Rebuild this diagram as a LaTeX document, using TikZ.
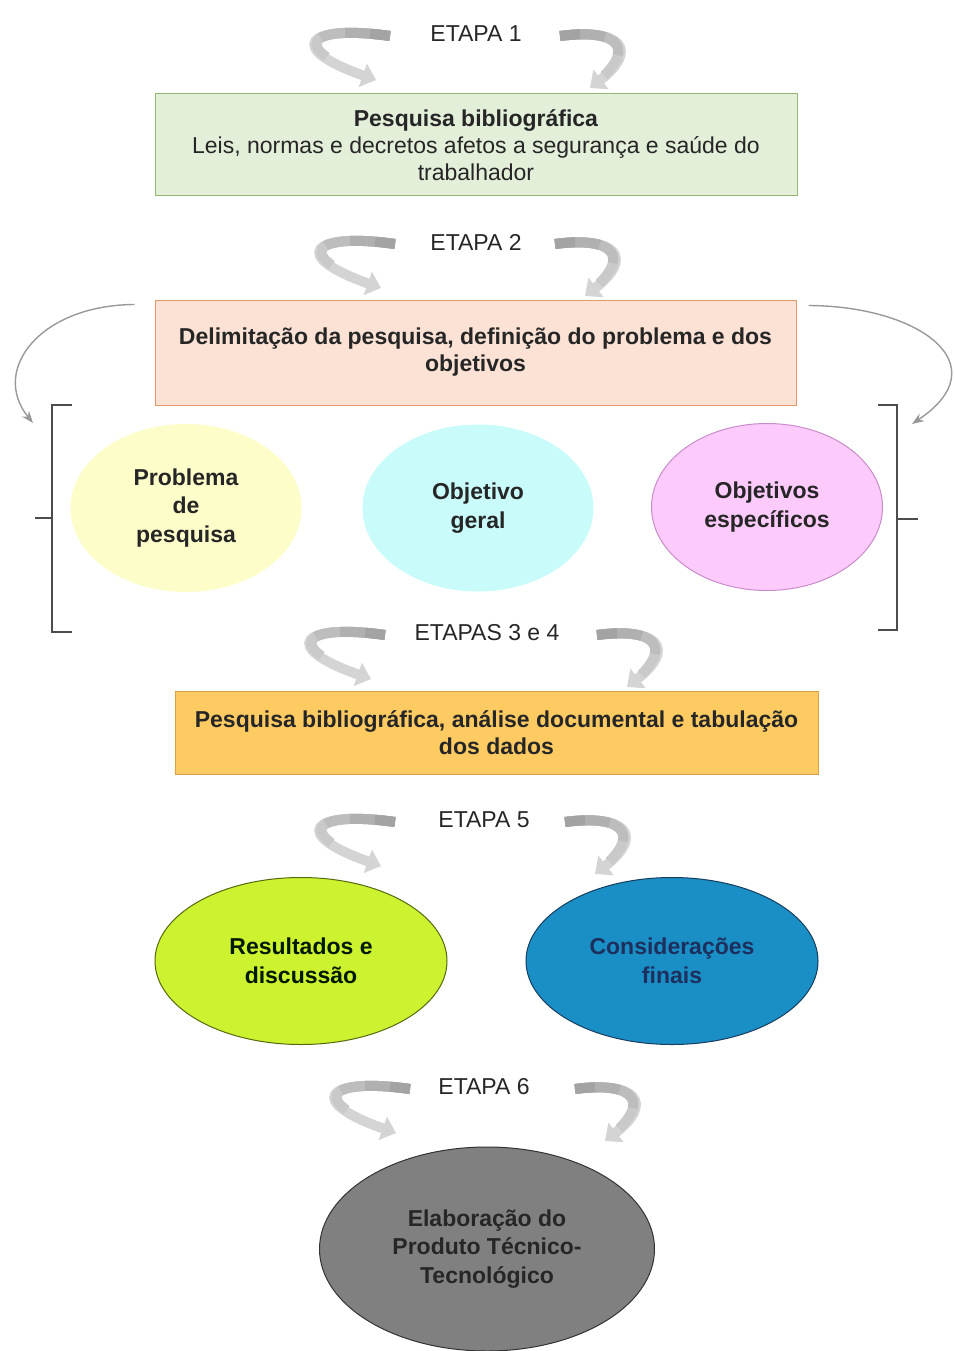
\documentclass[tikz,border=0pt]{standalone}
\usepackage{fontspec}
\setmainfont{Liberation Sans}
\usepackage{xcolor}
\usetikzlibrary{arrows.meta,shapes.geometric}

\definecolor{verdeF}{HTML}{E4EFDA}
\definecolor{verdeB}{HTML}{93B874}
\definecolor{salmaoF}{HTML}{FBE2D5}
\definecolor{salmaoB}{HTML}{E39A6A}
\definecolor{ouroF}{HTML}{FECB63}
\definecolor{ouroB}{HTML}{DDA045}
\definecolor{amareloF}{HTML}{FDFDCA}
\definecolor{cianoF}{HTML}{CAFBFB}
\definecolor{rosaF}{HTML}{FDCBFB}
\definecolor{rosaB}{HTML}{C98BC9}
\definecolor{limaF}{HTML}{CDF22F}
\definecolor{limaB}{HTML}{55690F}
\definecolor{azulF}{HTML}{1A8FC6}
\definecolor{azulB}{HTML}{163C5E}
\definecolor{azulT}{HTML}{1D2F5C}
\definecolor{cinzaF}{HTML}{808080}

% two grey ribbon arrows around a stage label
\newcommand{\voltas}[3]{%
  \begin{scope}[shift={(#1.center)}]
    \draw[volta] (#2,2) .. controls (#2-85,-10) and (#2-105,14) .. (#2-14,46);
    \draw[volta] (#3,2) .. controls (#3+60,-6) and (#3+80,15) .. (#3+30,54);
  \end{scope}}

\begin{document}
\begin{tikzpicture}[x=1pt, y=-1pt,
  etapa/.style={font=\fontsize{23}{27}\selectfont, text=black!85, inner sep=0pt},
  caixa/.style={draw, line width=1pt, align=center, inner sep=0pt, text=black!85,
    font=\fontsize{23}{27}\selectfont},
  elipse/.style={ellipse, inner sep=0pt, align=center, text=black!85,
    font=\bfseries\fontsize{23}{28.5}\selectfont},
  volta/.style={draw=black!17, line width=10pt, -{Triangle[length=14pt, width=24pt]},
    postaction={draw=black!21, -, dash pattern=on 95pt off 800pt},
    postaction={draw=black!26, -, dash pattern=on 70pt off 800pt},
    postaction={draw=black!31, -, dash pattern=on 45pt off 800pt},
    postaction={draw=black!36, -, dash pattern=on 20pt off 800pt}},
  fina/.style={draw=black!40, line width=1.4pt, -{Stealth[length=12pt, width=9pt]}},
  chave/.style={draw=black!70, line width=1.6pt}]

  \useasboundingbox (0,0) rectangle (954,1351);

  % Etapa 1
  \node[etapa] (e1) at (476,34) {ETAPA 1};
  \voltas{e1}{-86}{84}
  \node[caixa, fill=verdeF, draw=verdeB, minimum width=642pt, minimum height=102pt] (c1) at (476,145)
    {\textbf{Pesquisa bibliográfica}\\Leis, normas e decretos afetos a segurança e saúde do\\trabalhador};

  % Etapa 2
  \node[etapa] (e2) at (476,242) {ETAPA 2};
  \voltas{e2}{-81}{79}
  \node[caixa, fill=salmaoF, draw=salmaoB, minimum width=641pt, minimum height=105pt,
    font=\bfseries\fontsize{23}{27}\selectfont] (c2) at (475.5,352.5)
    {Delimitação da pesquisa, definição do problema e dos\\objetivos};

  % Chaves em volta dos tres objetivos
  \draw[chave] (72,405) -- (52,405) -- (52,632) -- (72,632);
  \draw[chave] (52,518) -- (35,518);
  \draw[chave] (878,405) -- (897,405) -- (897,630) -- (878,630);
  \draw[chave] (897,519) -- (918,519);
  \coordinate (chE) at (33,423);
  \coordinate (chD) at (912,424);
  \draw[fina] ([shift={(-20,5)}]c2.north west) .. controls (40,305) and (-10,370) .. (chE);
  \draw[fina] ([shift={(12,6)}]c2.north east) .. controls (920,306) and (1000,365) .. (chD);

  \node[elipse, fill=amareloF, minimum width=231pt, minimum height=168pt] (o1) at (186,508)
    {Problema\\de\\pesquisa};
  \node[elipse, fill=cianoF, minimum width=231pt, minimum height=167pt] (o2) at (478,508)
    {Objetivo\\geral};
  \node[elipse, fill=rosaF, draw=rosaB, line width=1pt, minimum width=231pt, minimum height=167pt] (o3) at (767,507)
    {Objetivos\\específicos};

  % Etapas 3 e 4
  \node[etapa] (e3) at (487,633) {ETAPAS 3 e 4};
  \voltas{e3}{-102}{110}
  \node[caixa, fill=ouroF, draw=ouroB, minimum width=643pt, minimum height=83pt,
    font=\bfseries\fontsize{23}{27}\selectfont] (c3) at (496.5,733)
    {Pesquisa bibliográfica, análise documental e tabulação\\dos dados};

  % Etapa 5
  \node[etapa] (e5) at (484,820) {ETAPA 5};
  \voltas{e5}{-89}{81}
  \node[elipse, fill=limaF, draw=limaB, line width=1pt, minimum width=292pt, minimum height=167pt,
    text=black!90!green] (r1) at (301,961) {Resultados e\\discussão};
  \node[elipse, fill=azulF, draw=azulB, line width=1pt, minimum width=292pt, minimum height=167pt,
    text=azulT] (r2) at (672,961) {Considerações\\finais};

  % Etapa 6
  \node[etapa] (e6) at (484,1087) {ETAPA 6};
  \voltas{e6}{-74}{91}
  \node[elipse, fill=cinzaF, draw=black!80, line width=1pt, minimum width=335pt, minimum height=204pt,
    text=black!85] (p1) at (487,1249) {Elaboração do\\Produto Técnico-\\Tecnológico};

\end{tikzpicture}
\end{document}
